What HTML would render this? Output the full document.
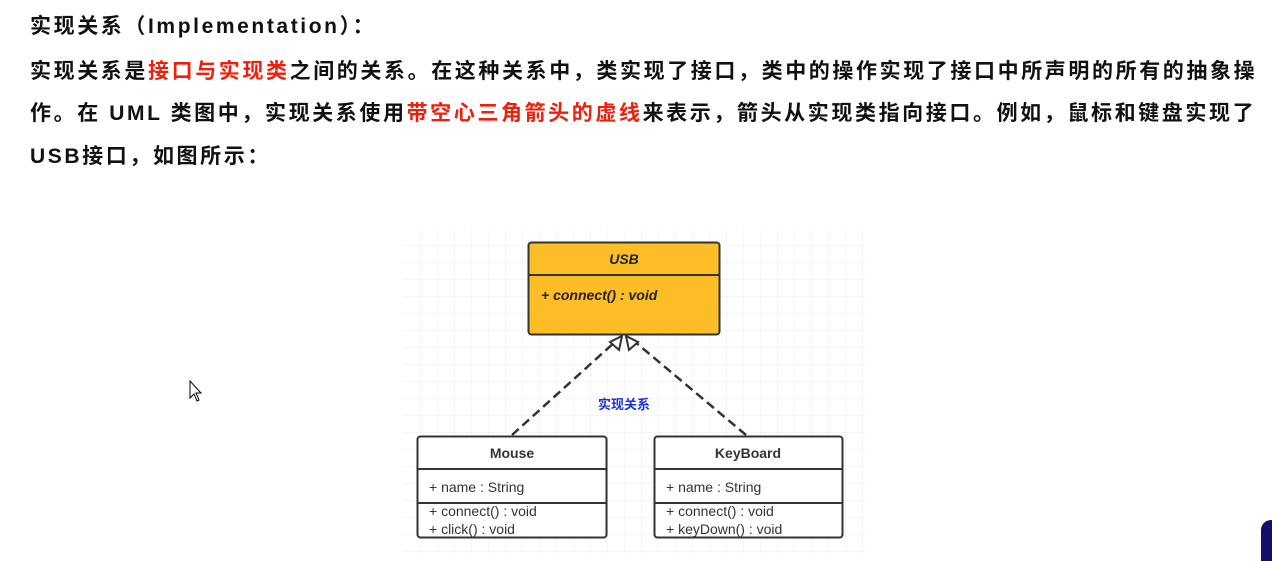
<!DOCTYPE html>
<html><head><meta charset="utf-8"><style>
body{margin:0;width:1272px;height:561px;background:#fff;overflow:hidden;position:relative;font-family:"Liberation Sans","Noto Sans CJK SC",sans-serif;}
.t{position:absolute;left:30px;font-weight:bold;font-size:21px;letter-spacing:2.6px;color:#111;white-space:nowrap;}
.r{color:#f01e0a}
</style></head><body>
<div class="t" style="top:10px">实现关系（Implementation）：</div>
<div class="t" style="top:55px">实现关系是<span class="r">接口与实现类</span>之间的关系。在这种关系中，类实现了接口，类中的操作实现了接口中所声明的所有的抽象操</div>
<div class="t" style="top:97px">作。在 UML 类图中，实现关系使用<span class="r">带空心三角箭头的虚线</span>来表示，箭头从实现类指向接口。例如，鼠标和键盘实现了</div>
<div class="t" style="top:140px">USB接口，如图所示：</div>
<svg style="position:absolute;left:0;top:0" width="1272" height="561">
<defs><pattern id="g" width="17" height="17" patternUnits="userSpaceOnUse" x="404" y="229"><path d="M17 0V17H0" fill="none" stroke="#ececec" stroke-width="1"/></pattern></defs>
<rect x="404" y="229" width="462" height="325" fill="url(#g)"/>
<g font-family="Liberation Sans, Noto Sans CJK SC, sans-serif">
<rect x="528.5" y="242.5" width="191" height="92" rx="3" fill="#fdbd26" stroke="#333" stroke-width="2"/>
<line x1="528" y1="275" x2="720" y2="275" stroke="#333" stroke-width="2"/>
<text x="624" y="264" text-anchor="middle" font-size="14" font-style="italic" font-weight="bold" fill="#222">USB</text>
<text x="541" y="300" font-size="14" font-style="italic" font-weight="bold" fill="#222">+ connect() : void</text>
<path d="M512 435 L616 341" stroke="#333" stroke-width="2.5" stroke-dasharray="9,5" fill="none"/>
<path d="M746 435 L634 341" stroke="#333" stroke-width="2.5" stroke-dasharray="9,5" fill="none"/>
<path d="M622 336 L619 350 L610 342 Z" fill="#fff" stroke="#333" stroke-width="2"/>
<path d="M626 336 L629 350 L638 342 Z" fill="#fff" stroke="#333" stroke-width="2"/>
<text x="624" y="409" text-anchor="middle" font-size="13" font-weight="bold" fill="#1a2fdc">实现关系</text>
<rect x="417.5" y="436.5" width="189" height="101" rx="3" fill="#fff" stroke="#333" stroke-width="2"/>
<line x1="417" y1="469" x2="607" y2="469" stroke="#333" stroke-width="2"/>
<line x1="417" y1="503" x2="607" y2="503" stroke="#333" stroke-width="2"/>
<text x="512" y="458" text-anchor="middle" font-size="14" font-weight="bold" fill="#333">Mouse</text>
<text x="429" y="492" font-size="14" fill="#333">+ name : String</text>
<text x="429" y="516" font-size="14" fill="#333">+ connect() : void</text>
<text x="429" y="534" font-size="14" fill="#333">+ click() : void</text>
<rect x="654.5" y="436.5" width="188" height="101" rx="3" fill="#fff" stroke="#333" stroke-width="2"/>
<line x1="654" y1="469" x2="843" y2="469" stroke="#333" stroke-width="2"/>
<line x1="654" y1="503" x2="843" y2="503" stroke="#333" stroke-width="2"/>
<text x="748" y="458" text-anchor="middle" font-size="14" font-weight="bold" fill="#333">KeyBoard</text>
<text x="666" y="492" font-size="14" fill="#333">+ name : String</text>
<text x="666" y="516" font-size="14" fill="#333">+ connect() : void</text>
<text x="666" y="534" font-size="14" fill="#333">+ keyDown() : void</text>
</g>
<path d="M190 381 L190 398 L194 394 L197 401 L199 400 L196 393 L201 393 Z" fill="#fff" stroke="#000" stroke-width="1"/>
<rect x="1261" y="520" width="20" height="50" rx="10" fill="#14106a"/>
</svg>
</body></html>
